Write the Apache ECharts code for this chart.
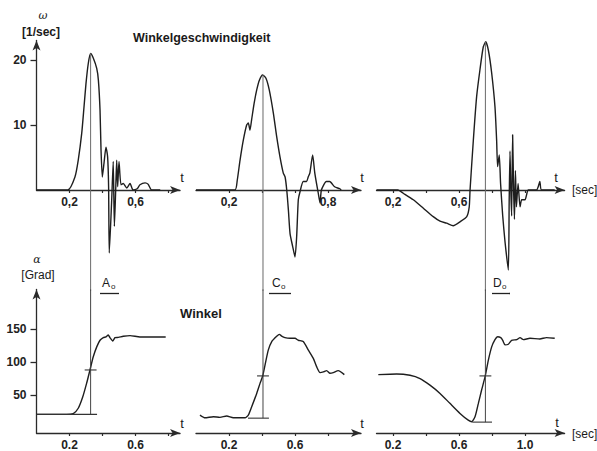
<!DOCTYPE html>
<html><head><meta charset="utf-8">
<script src="https://cdn.jsdelivr.net/npm/echarts@6/dist/echarts.min.js"></script>
<style>html,body{margin:0;padding:0;background:#fff}#c{width:597px;height:451px}</style>
</head><body><div id="c"></div>
<script>
// ---------- data (t in sec) ----------
// top row: Winkelgeschwindigkeit ω [1/sec]
const omegaA = [[0,0],[0.19,0],[0.233,2.0],[0.253,4.6],[0.274,8.7],[0.288,12.8],[0.30,16.4],[0.314,19.5],[0.328,21.0],[0.344,20.3],[0.365,18.7],[0.375,16.9],[0.385,12.3],[0.391,6.2],[0.399,2.0],[0.409,4.1],[0.421,6.6],[0.431,5.1],[0.437,0.5],[0.441,-9.7],[0.455,-2],[0.465,4.4],[0.472,-5.6],[0.48,0],[0.486,4.6],[0.492,0.5],[0.50,4.4],[0.512,0.8],[0.526,1.0],[0.547,0.3],[0.567,1.0],[0.585,0],[0.61,0.2],[0.627,0.8],[0.658,1.1],[0.676,0.9],[0.698,0],[0.75,0]];
const omegaC = [[0,0],[0.236,0],[0.25,1.5],[0.267,4.6],[0.287,7.7],[0.307,10.0],[0.317,10.3],[0.327,9.2],[0.337,10.8],[0.352,13.3],[0.368,15.4],[0.384,16.9],[0.404,17.7],[0.424,17.2],[0.444,15.4],[0.469,11.8],[0.489,8.2],[0.509,5.1],[0.529,2.6],[0.54,2.0],[0.55,0],[0.56,-3.1],[0.57,-6.7],[0.586,-8.7],[0.6,-10.3],[0.61,-7.2],[0.62,-1.5],[0.63,-0.3],[0.65,1.3],[0.67,1.3],[0.68,2.0],[0.69,2.6],[0.707,5.4],[0.72,2.6],[0.741,-0.5],[0.752,-2.0],[0.76,0],[0.79,1.3],[0.81,1.3],[0.84,0.5],[0.87,0.2],[0.88,0]];
const omegaD = [[0.1,0],[0.23,0],[0.262,-0.5],[0.323,-1.5],[0.384,-2.8],[0.444,-4.1],[0.485,-4.8],[0.525,-5.1],[0.565,-5.5],[0.606,-4.9],[0.647,-4.1],[0.662,-2.6],[0.667,0],[0.687,7.7],[0.707,14.4],[0.727,18.5],[0.747,22.0],[0.762,22.8],[0.778,21.5],[0.798,18.0],[0.818,12.8],[0.828,7.7],[0.834,3.6],[0.844,5.4],[0.852,1.0],[0.865,-4.0],[0.879,-8.0],[0.899,-12.3],[0.904,-2],[0.909,6.0],[0.914,0],[0.919,-4],[0.925,8.5],[0.931,0],[0.936,-4.5],[0.942,3],[0.948,-2.6],[0.958,1],[0.97,-2.6],[0.98,-1.5],[1.0,-1.5],[1.02,0],[1.07,0],[1.08,0.5],[1.09,1.3],[1.10,0],[1.18,0]];
// bottom row: Winkel α [Grad]
const alphaA = [[0,20.7],[0.183,20.7],[0.223,22],[0.253,30],[0.28,47],[0.304,68],[0.324,88],[0.344,108],[0.365,123],[0.385,133],[0.405,137],[0.421,138],[0.435,141],[0.445,137],[0.462,132],[0.476,137],[0.496,137.4],[0.526,139],[0.567,140],[0.627,138],[0.783,138]];
const alphaC = [[0.024,19.7],[0.055,15.6],[0.105,17.2],[0.145,16.2],[0.186,18.2],[0.226,15.6],[0.297,15.6],[0.317,19.7],[0.337,32],[0.368,52.5],[0.388,67.7],[0.404,78.8],[0.418,95],[0.438,118],[0.459,131],[0.489,139],[0.505,142],[0.519,139.4],[0.539,137],[0.57,136],[0.6,136],[0.62,133],[0.65,131],[0.681,118],[0.711,105.6],[0.731,93],[0.752,84],[0.772,85],[0.792,87],[0.812,83],[0.832,84],[0.862,87],[0.899,81]];
const alphaD = [[0.111,81],[0.222,82],[0.303,80],[0.364,75],[0.424,65],[0.485,52.5],[0.545,37.4],[0.606,22.2],[0.656,12],[0.677,9.6],[0.697,17],[0.717,37],[0.737,57.6],[0.758,77.8],[0.778,103],[0.798,123],[0.818,134],[0.834,138.4],[0.853,137],[0.865,133],[0.879,126],[0.899,127],[0.919,133],[0.95,134],[0.97,137],[0.99,134],[1.03,136],[1.09,135],[1.13,137],[1.18,136]];

// markers: time of the ω maximum, its value, the base level of α and the α crossing
const caseNames = ['A', 'C', 'D'];
const peakT = [0.328, 0.406, 0.76];
const peakW = [21.0, 17.7, 22.8];
const baseA = [20.7, 15, 9];
const baseFrom = [0, 0.315, 0.68];
const baseTo = [0.367, 0.442, 0.80];
const crossA = [88, 79, 79];

// axis ranges and ticks
const tMin = [0, 0, 0.1];
const tMax = [0.87, 1.0, 1.24];
const tTicks = [[0.2,0.4,0.6,0.8],[0.2,0.4,0.6,0.8],[0.2,0.4,0.6,0.8,1.0]];
const tLabelsTop = [[0.2,0.6],[0.2,0.8],[0.2,0.6]];
const tLabelsBottom = [[0.2,0.6],[0.2,0.6],[0.2,0.6,1.0]];
const omegaTicks = [10, 20];
const alphaTicks = [50, 100, 150];
const omegaRange = [0, 23];
const alphaRange = [-7.5, 210];
const omegaLow = -15.5;

// ---------- layout ----------
const PX = 165;                  // px per second
const T0 = [36.5, 196, 360];     // x pixel of t = 0 per column
const TOP_ZERO = 190, TOP_PX = 6.5;
const BOT_BASE = 433, BOT_PX = 0.66;

const FONT = '"Liberation Sans", Arial, sans-serif';
const ink = '#1e1e1e';
const axisInk = '#2a2a2a';

const grids = [], xAxes = [], yAxes = [], series = [];
for (let row = 0; row < 2; row++) {
  for (let c = 0; c < 3; c++) {
    const gi = row * 3 + c;
    const left = T0[c] + tMin[c] * PX;
    const width = (tMax[c] - tMin[c]) * PX;
    let top, height;
    if (row === 0) {
      top = TOP_ZERO - omegaRange[1] * TOP_PX; height = (omegaRange[1] - omegaRange[0]) * TOP_PX;
    } else {
      height = (alphaRange[1] - alphaRange[0]) * BOT_PX; top = BOT_BASE - height;
    }
    grids.push({ left, top, width, height, containLabel: false, outerBoundsMode: 'none' });
    xAxes.push({
      type: 'value', gridIndex: gi, min: tMin[c], max: tMax[c],
      position: 'bottom',
      axisLine: { show: true, onZero: false, symbol: ['none', 'arrow'], symbolSize: [6, 10],
        lineStyle: { color: axisInk, width: 1.3 } },
      axisTick: { show: true, customValues: tTicks[c], length: 3, lineStyle: { color: axisInk, width: 1.2 } },
      axisLabel: { show: true, customValues: row === 0 ? tLabelsTop[c] : tLabelsBottom[c],
        formatter: v => { const s = Number(v).toFixed(1); return row === 0 ? s.replace('.', ',') : s; },
        margin: 6, color: '#222', fontFamily: FONT, fontSize: 12, fontWeight: 'bold' },
      splitLine: { show: false }
    });
    const showY = c === 0;
    yAxes.push({
      type: 'value', gridIndex: gi, show: showY,
      min: row === 0 ? omegaRange[0] : alphaRange[0],
      max: row === 0 ? omegaRange[1] : alphaRange[1],
      axisLine: { show: true, symbol: ['none', 'arrow'], symbolSize: [6, 10], lineStyle: { color: axisInk, width: 1.3 } },
      axisTick: { show: true, customValues: row === 0 ? omegaTicks : alphaTicks, length: 6, lineStyle: { color: axisInk, width: 1.3 } },
      axisLabel: { show: true, customValues: row === 0 ? omegaTicks : alphaTicks, margin: 10,
        color: '#222', fontFamily: FONT, fontSize: 12, fontWeight: 'bold' },
      splitLine: { show: false }
    });
    const curve = row === 0 ? [omegaA, omegaC, omegaD][c] : [alphaA, alphaC, alphaD][c];
    series.push({
      type: 'line', xAxisIndex: gi, yAxisIndex: gi, data: curve, showSymbol: false, symbol: 'none',
      smooth: 0.2, clip: false, silent: true, animation: false,
      lineStyle: { color: ink, width: 1.4 }
    });
    // marker lines
    const seg = (d, color, w) => series.push({
      type: 'line', xAxisIndex: gi, yAxisIndex: gi, data: d, showSymbol: false, symbol: 'none',
      clip: false, silent: true, animation: false, lineStyle: { color, width: w }
    });
    if (row === 0) {
      seg([[peakT[c], peakW[c]], [peakT[c], omegaLow]], '#6a6a6a', 1);
    } else {
      seg([[peakT[c], alphaRange[1]], [peakT[c], baseA[c]]], '#444', 1);
      seg([[baseFrom[c], baseA[c]], [baseTo[c], baseA[c]]], '#333', 1.1);
      seg([[peakT[c] - 0.036, crossA[c]], [peakT[c] + 0.036, crossA[c]]], '#333', 1.1);
    }
  }
}

const txt = (x, y, text, font, align, extra) => Object.assign({
  type: 'text', x, y, silent: true,
  style: { text, font, fill: '#1a1a1a', textAlign: align || 'left', textVerticalAlign: 'middle' }
}, extra || {});
const line = (x1, y1, x2, y2) => ({ type: 'line', silent: true, shape: { x1, y1, x2, y2 }, style: { stroke: '#222', lineWidth: 1.3 } });

const graphic = [
  txt(43, 15, 'ω', 'italic 11px "DejaVu Serif", serif', 'center'),
  txt(41, 32, '[1/sec]', 'bold 12px ' + FONT, 'center'),
  txt(133, 38, 'Winkelgeschwindigkeit', 'bold 12.5px ' + FONT, 'left'),
  txt(37, 259, 'α', 'italic 11px "DejaVu Serif", serif', 'center'),
  txt(38, 275, '[Grad]', '12px ' + FONT, 'center'),
  txt(180, 313, 'Winkel', 'bold 13px ' + FONT, 'left'),
  txt(182, 177, 't', '13px ' + FONT, 'center'),
  txt(362, 177, 't', '13px ' + FONT, 'center'),
  txt(556, 177, 't', '13px ' + FONT, 'center'),
  txt(182, 423, 't', '13px ' + FONT, 'center'),
  txt(362, 423, 't', '13px ' + FONT, 'center'),
  txt(557, 422, 't', '13px ' + FONT, 'center'),
  txt(572, 190, '[sec]', '12px ' + FONT, 'left'),
  txt(572, 434, '[sec]', '12px ' + FONT, 'left')
];
const labX = [102, 272, 493];
const ulX = [[100, 119], [269, 291], [492, 510]];
caseNames.forEach((n, i) => {
  graphic.push(txt(labX[i], 283, n, '12px ' + FONT, 'left'));
  graphic.push(txt(labX[i] + 9, 286, 'o', '8px ' + FONT, 'left'));
  graphic.push(line(ulX[i][0], 293.5, ulX[i][1], 293.5));
});

const chart = echarts.init(document.getElementById('c'), null, { renderer: 'svg', width: 597, height: 451 });
chart.setOption({
  backgroundColor: '#fff',
  animation: false,
  grid: grids, xAxis: xAxes, yAxis: yAxes, series, graphic
});
</script></body></html>
